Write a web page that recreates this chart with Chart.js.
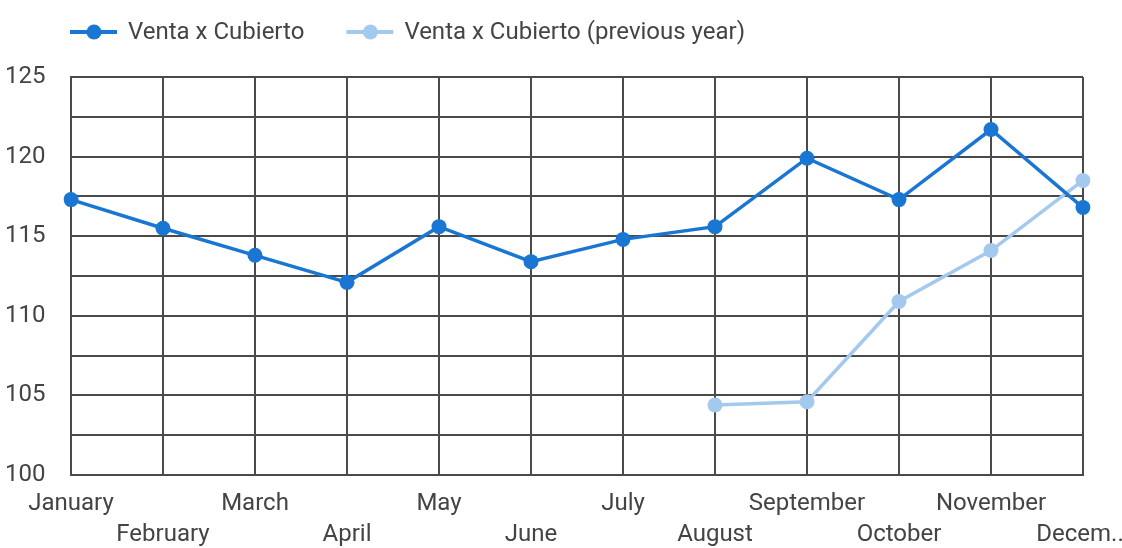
<!DOCTYPE html>
<html>
<head>
<meta charset="utf-8">
<script src="https://cdn.jsdelivr.net/npm/chart.js@4"></script>
<style>
  html, body { margin: 0; padding: 0; background: #fff; }
  #wrap { width: 1122px; height: 548px; }
</style>
</head>
<body>
<div id="wrap"><canvas id="chart" width="1122" height="548"></canvas></div>
<script>
const months = ["January", "February", "March", "April", "May", "June", "July",
  "August", "September", "October", "November", "December"];
const ventaActual = [117.3, 115.5, 113.8, 112.1, 115.6, 113.4, 114.8, 115.6, 119.9, 117.3, 121.7, 116.8];
const ventaPrevia = [null, null, null, null, null, null, null, 104.4, 104.6, 110.9, 114.1, 118.5];
const yTicks = [100, 105, 110, 115, 120, 125];

const TEXT = "#444444";
const GRID = "#4a4a4a";
const FONT = "Roboto";

// legend with a line and a dot, drawn by hand
const lineLegend = {
  id: "lineLegend",
  afterDraw(chart) {
    const ctx = chart.ctx;
    ctx.save();
    ctx.font = "24px " + FONT;
    ctx.textBaseline = "middle";
    let x = 70;
    const y = 32;
    chart.data.datasets.forEach(ds => {
      ctx.strokeStyle = ds.borderColor;
      ctx.lineWidth = 4;
      ctx.beginPath();
      ctx.moveTo(x, y);
      ctx.lineTo(x + 47, y);
      ctx.stroke();
      ctx.fillStyle = ds.borderColor;
      ctx.beginPath();
      ctx.arc(x + 24, y, 7.5, 0, Math.PI * 2);
      ctx.fill();
      ctx.fillStyle = TEXT;
      ctx.fillText(ds.label, x + 58, y + 1);
      x += 58 + ctx.measureText(ds.label).width + 42;
    });
    ctx.restore();
  }
};

new Chart(document.getElementById("chart"), {
  type: "line",
  data: {
    labels: months,
    datasets: [
      {
        label: "Venta x Cubierto",
        data: ventaActual,
        borderColor: "#1976d2",
        backgroundColor: "#1976d2",
        borderWidth: 3.5,
        pointRadius: 7.5,
        pointHoverRadius: 7.5,
        pointBorderWidth: 0,
        tension: 0
      },
      {
        label: "Venta x Cubierto (previous year)",
        data: ventaPrevia,
        borderColor: "#a4c9ef",
        backgroundColor: "#a4c9ef",
        borderWidth: 3.5,
        pointRadius: 7.5,
        pointHoverRadius: 7.5,
        pointBorderWidth: 0,
        tension: 0
      }
    ]
  },
  options: {
    responsive: false,
    animation: false,
    layout: { padding: { top: 77, left: 5, right: 0, bottom: 0 } },
    plugins: {
      legend: { display: false },
      tooltip: { enabled: false }
    },
    scales: {
      x: {
        grid: { color: GRID, lineWidth: 2, drawTicks: false },
        border: { color: GRID, width: 2 },
        ticks: {
          autoSkip: false,
          maxRotation: 0,
          padding: 13,
          color: TEXT,
          font: { family: FONT, size: 24, lineHeight: 1.3 },
          callback: function (v, i) {
            let name = months[i];
            // the last label is cut short in the original (trailing space nudges it inside)
            if (i === months.length - 1) name = name.slice(0, 5) + ".. ";
            return i % 2 === 0 ? [name, ""] : ["", name];
          }
        },
        afterFit(s) { s.height = 73; s.paddingRight = 39; }
      },
      y: {
        min: 100,
        max: 125,
        grid: { color: GRID, lineWidth: 2, drawTicks: false },
        border: { color: GRID, width: 2 },
        ticks: {
          stepSize: 2.5,
          color: TEXT,
          crossAlign: "far",
          font: { family: FONT, size: 24 },
          callback: v => yTicks.includes(v) ? String(v) : ""
        },
        afterFit(s) { s.width = 66; }
      }
    }
  },
  plugins: [lineLegend]
});
</script>
</body>
</html>
